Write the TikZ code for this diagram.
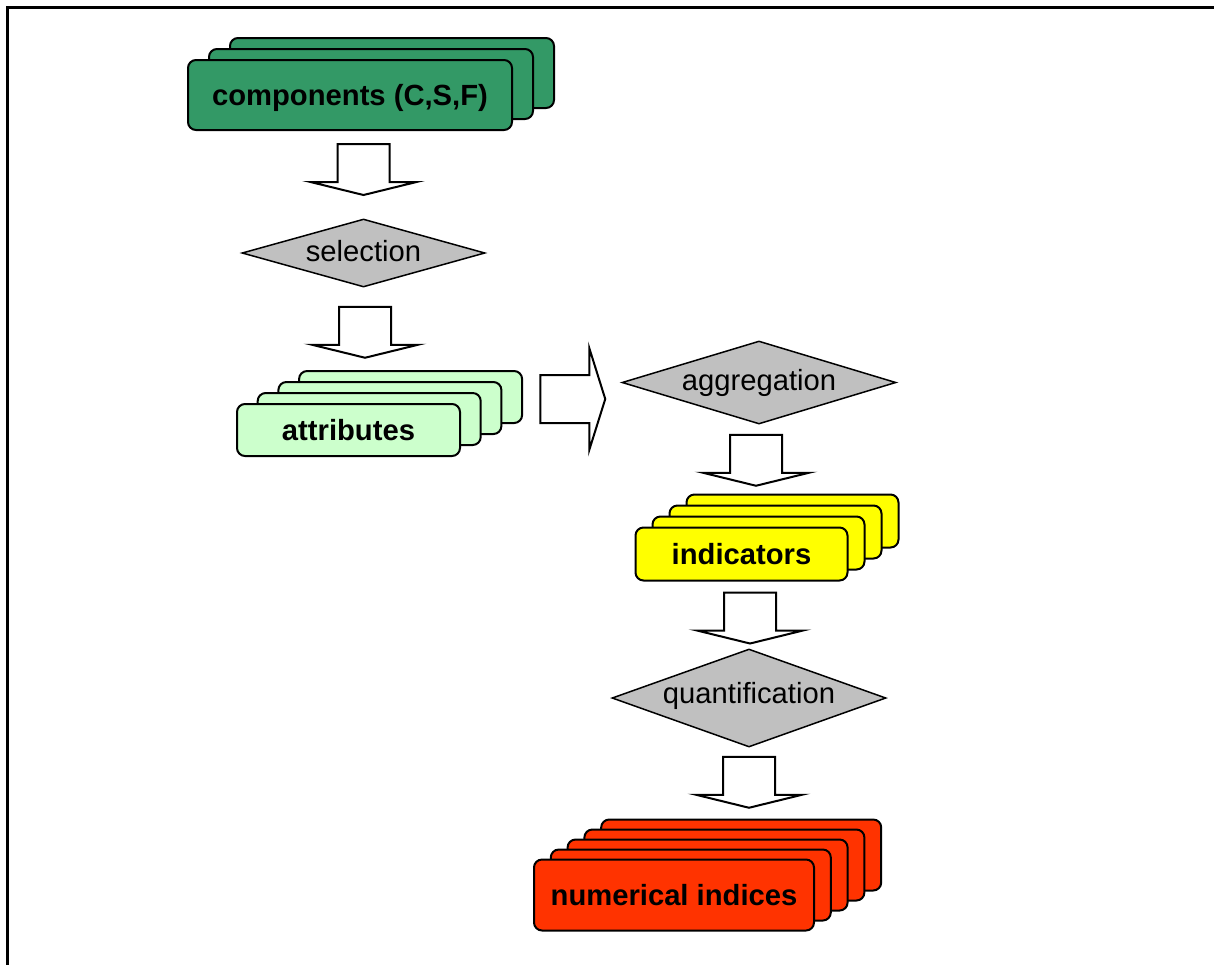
\documentclass[tikz,border=0pt]{standalone}
\usepackage{fontspec}
\setmainfont{Liberation Sans}
\usetikzlibrary{calc,shapes.geometric}
\definecolor{ixgreen}{HTML}{339966}
\definecolor{ixmint}{HTML}{CCFFCC}
\definecolor{ixyellow}{HTML}{FFFF00}
\definecolor{ixred}{HTML}{FF3300}
\definecolor{ixgray}{HTML}{C0C0C0}
\newcommand{\ixfont}{\fontsize{14.6}{17}\selectfont}
\tikzset{
  stackbox/.style={draw=black, line width=1pt, rounded corners=4pt, inner sep=0pt, text depth=0pt, font=\ixfont\bfseries},
  compbox/.style={stackbox, fill=ixgreen, minimum width=162pt, minimum height=35pt},
  attrbox/.style={stackbox, fill=ixmint, minimum width=111.5pt, minimum height=26pt},
  indbox/.style={stackbox, fill=ixyellow, minimum width=106pt, minimum height=26.5pt},
  numbox/.style={stackbox, fill=ixred, minimum width=140pt, minimum height=35.5pt},
  decision/.style={diamond, draw=black, line width=0.75pt, fill=ixgray, inner sep=0pt},
  decisiontext/.style={font=\ixfont, inner sep=0pt},
  blockline/.style={draw=black, line width=1pt, fill=white, line join=miter},
  pics/downblock/.style={code={
    \path[blockline] (-26,0) -- (26,0) -- (26,38) -- (53,38) -- (0,51) -- (-53,38) -- (-26,38) -- cycle;}},
  pics/rightblock/.style={code={
    \path[blockline] (0,-24) -- (49,-24) -- (49,-51) -- (65,0) -- (49,51) -- (49,24) -- (0,24) -- cycle;}}
}

\begin{document}
\begin{tikzpicture}[x=0.5pt, y=-0.5pt]
  \useasboundingbox (0,0) rectangle (1214,965);
  \draw[line width=1.1pt] (1214,7.5) -- (7.5,7.5) -- (7.5,965);

  % components
  \foreach \k in {2,1}
    \node[compbox] (comp\k) at ($(350,95)+\k*(21,-11)$) {};
  \node[compbox] (comp) at (350,95) {components (C,S,F)};

  % selection
  \node[decision, minimum width=121.5pt, minimum height=34pt] (sel) at (363.5,253) {};
  \node[decisiontext] (seltext) at ($(sel)+(0,-2)$) {selection};

  % attributes
  \foreach \k in {3,2,1}
    \node[attrbox] (attr\k) at ($(348.5,430)+\k*(20.7,-11)$) {};
  \node[attrbox] (attr) at (348.5,430) {attributes};

  % aggregation
  \node[decision, minimum width=137pt, minimum height=41.5pt] (agg) at (759,382.5) {};
  \node[decisiontext] (aggtext) at (agg) {aggregation};

  % indicators
  \foreach \k in {3,2,1}
    \node[indbox] (ind\k) at ($(741.5,554)+\k*(17,-11)$) {};
  \node[indbox] (ind) at (741.5,554) {indicators};

  % quantification
  \node[decision, minimum width=137pt, minimum height=49pt] (quant) at (749,698) {};
  \node[decisiontext] (quanttext) at ($(quant)+(0,-2)$) {quantification};

  % numerical indices
  \foreach \k in {4,3,2,1}
    \node[numbox] (num\k) at ($(674,895)+\k*(16.8,-10)$) {};
  \node[numbox] (num) at (674,895) {numerical indices};

  % block arrows
  \pic at ($(sel.north |- comp.south)+(0,13)$) {downblock};
  \pic at ($(sel.south)+(1.5,19)$) {downblock};
  \pic at ($(agg.west)+(-81,16.5)$) {rightblock};
  \pic at ($(agg.south)+(-3,10)$) {downblock};
  \pic at ($(quant.north |- ind.south)+(1,11)$) {downblock};
  \pic at ($(quant.south)+(0,9)$) {downblock};
\end{tikzpicture}
\end{document}
